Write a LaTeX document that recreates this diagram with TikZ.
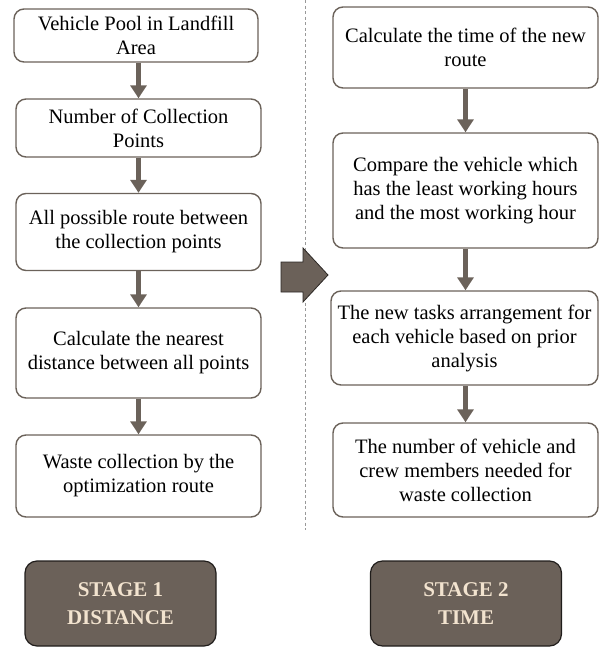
\documentclass[tikz,border=0pt]{standalone}
\usepackage{fontspec}
\setmainfont{Liberation Serif}
\newfontfamily\timesf{Liberation Serif}
\usetikzlibrary{arrows.meta}
\definecolor{brd}{HTML}{6B625A}
\definecolor{stfill}{HTML}{6B6159}
\definecolor{sttext}{HTML}{F2E3CF}
\tikzset{
  box/.style={draw=brd, line width=1.4pt, rounded corners=10pt, fill=white, align=center,
    font=\timesf\fontsize{20.5}{24}\selectfont, inner sep=0pt},
  stagebox/.style={draw=black!70!brd, line width=1.2pt, rounded corners=12pt, fill=stfill, align=center,
    text=sttext, font=\timesf\bfseries\fontsize{21}{28}\selectfont, inner sep=0pt,
    minimum width=191pt, minimum height=85pt},
  flow/.style={draw=brd, line width=5.5pt, -{Triangle[width=16pt,length=13pt]}}
}
\begin{document}
\begin{tikzpicture}[x=1pt,y=-1pt]
\useasboundingbox (0,0) rectangle (601,648);
% dashed separator
\draw[gray!80, line width=0.8pt, dash pattern=on 3pt off 2.5pt] (305,0) -- (305,530);
% left column
\node[box, minimum width=244pt, minimum height=53pt] (L1) at (136,35.5) {Vehicle Pool in Landfill\\Area};
\node[box, minimum width=245pt, minimum height=58pt] (L2) at (138.5,128) {Number of Collection\\Points};
\node[box, minimum width=245pt, minimum height=77pt] (L3) at (138.5,232) {All possible route between\\the collection points};
\node[box, minimum width=245pt, minimum height=90pt] (L4) at (138.5,353) {Calculate the nearest\\distance between all points};
\node[box, minimum width=245pt, minimum height=82pt] (L5) at (138.5,476) {Waste collection by the\\optimization route};
% right column
\node[box, minimum width=265pt, minimum height=81pt] (R1) at (465.5,47.5) {Calculate the time of the new\\route};
\node[box, minimum width=265pt, minimum height=115pt] (R2) at (465.5,190.5) {Compare the vehicle which\\has the least working hours\\and the most working hour};
\node[box, minimum width=267pt, minimum height=94pt] (R3) at (464.5,338) {The new tasks arrangement for\\each vehicle based on prior\\analysis};
\node[box, minimum width=265pt, minimum height=94pt] (R4) at (465.5,470) {The number of vehicle and\\crew members needed for\\waste collection};
% flow arrows
\draw[flow] (L1.south -| L2.north) -- (L2.north);
\draw[flow] (L2.south) -- (L3.north);
\draw[flow] (L3.south) -- (L4.north);
\draw[flow] (L4.south) -- (L5.north);
\draw[flow] (R1.south) -- (R2.north);
\draw[flow] (R2.south) -- (R3.north -| R2.south);
\draw[flow] (R3.south -| R2.south) -- (R4.north);
% big arrow
\fill[stfill, draw=black!60!brd, line width=0.8pt] (281,262) -- (303,262) -- (303,248) -- (328,275) -- (303,302) -- (303,292) -- (281,292) -- cycle;
% stage boxes
\node[stagebox] (S1) at (120.5,603.5) {STAGE 1\\DISTANCE};
\node[stagebox] (S2) at (466,603.5) {STAGE 2\\TIME};
\end{tikzpicture}
\end{document}
